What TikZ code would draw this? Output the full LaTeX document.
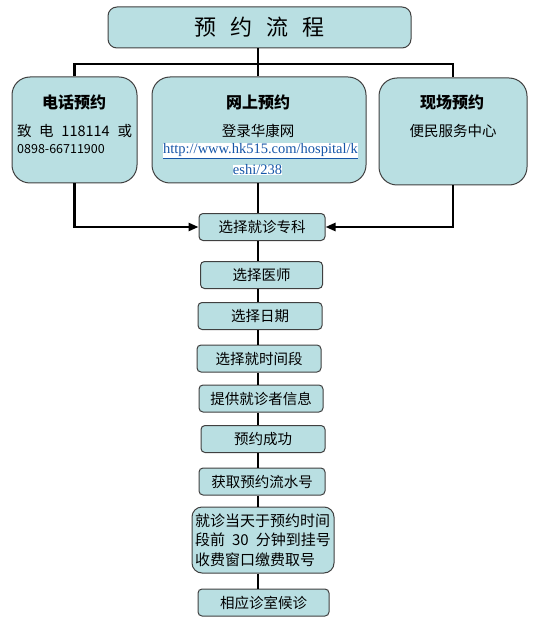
\documentclass[tikz,border=0pt]{standalone}
\usepackage{fontspec}
\setmainfont{Noto Sans CJK SC}
\newfontfamily\urlfont{Liberation Serif}
\usetikzlibrary{arrows.meta}
\definecolor{boxfill}{HTML}{B9DFE2}
\definecolor{boxline}{HTML}{404040}
\definecolor{linkblue}{HTML}{1656A8}

\begin{document}
\begin{tikzpicture}[x=1pt,y=-1pt,
    box/.style={draw=boxline, line width=1pt, fill=boxfill, inner sep=0pt},
    bigbox/.style={box, rounded corners=18pt},
    stepbox/.style={box, rounded corners=4pt, minimum height=27pt, font=\fontsize{14.5}{16}\selectfont},
    head/.style={inner sep=0pt, font=\fontsize{16}{18}\selectfont\bfseries},
    body/.style={inner sep=0pt, font=\fontsize{14.5}{18}\selectfont},
    url/.style={inner sep=0pt, fill=white, text=linkblue, font=\urlfont\fontsize{14.5}{16}\selectfont},
    link/.style={line width=2.6pt},
    tip/.style={-{Triangle[length=10pt,width=8pt]}}]
  \useasboundingbox (0,0) rectangle (541,620);

  % title and the three ways
  \node [box, rounded corners=9pt, minimum width=303pt, minimum height=41pt,
         font=\fontsize{22}{24}\selectfont] (title) at (259.5,27.5)
        {预\hspace{14pt}约\hspace{14pt}流\hspace{14pt}程};
  \node [bigbox, minimum width=125pt, minimum height=106pt] (tel) at (74.5,130) {};
  \node [bigbox, minimum width=214pt, minimum height=106pt] (web) at (259,130) {};
  \node [bigbox, minimum width=148pt, minimum height=107pt] (site) at (453,131.5) {};

  \node [head] (telhead) at (74,102) {电话预约};
  \node [body] (telnum) at (74.5,131) {\makebox[115pt][s]{致\hfill 电\hfill 118114\hfill 或}};
  \node [body, anchor=west, font=\fontsize{12.5}{14}\selectfont] (telnum2) at (17,149) {0898-66711900};

  \node [head] (webhead) at (258,102) {网上预约};
  \node [body] (webtext) at (258,131) {登录华康网};
  \node [url] (url1) at (260.5,151) {\underline{http://www.hk515.com/hospital/k}};
  \node [url] (url2) at (257.5,170) {eshi/238};

  \node [head] (sitehead) at (452,102) {现场预约};
  \node [body] (sitetext) at (453,131) {便民服务中心};

  % steps
  \foreach \i/\x/\y/\w/\t in {1/262/227/126/选择就诊专科, 2/261.5/275/122/选择医师,
      3/260/316/124/选择日期, 4/259/358.5/124/选择就时间段, 5/261/398.5/124/提供就诊者信息,
      6/263/439/124/预约成功, 7/262/481.5/126/获取预约流水号, 9/263.5/602.5/131/相应诊室候诊}
    { \node [stepbox, minimum width=\w pt] (s\i) at (\x,\y) {\t}; }
  \node [stepbox, rounded corners=10pt, minimum width=142pt, minimum height=66pt,
         align=left, font=\fontsize{15}{19.5}\selectfont] (s8) at (263,540)
        {就诊当天于预约时间\\段前\hspace{7pt}30\hspace{7pt}分钟到挂号\\收费窗口缴费取号};

  % connectors
  \coordinate (bus) at (0,64);
  \coordinate (spine) at (258,0);
  \draw [link] (tel.north) -- (tel.north |- bus) -- (site.north |- bus) -- (site.north);
  \draw [link] (title.south -| spine) -- (bus -| spine);
  \draw [link] (web.north -| spine) -- (bus -| spine);
  \draw [link] (web.south -| spine) -- (s1.north -| spine);
  \draw [link, tip] (tel.south) |- (s1.west);
  \draw [link, tip] (site.south) |- (s1.east);
  \foreach \a/\b in {1/2,2/3,3/4,4/5,5/6,6/7,7/8,8/9}
    { \draw [link] (s\a.south -| spine) -- (s\b.north -| spine); }
\end{tikzpicture}
\end{document}
